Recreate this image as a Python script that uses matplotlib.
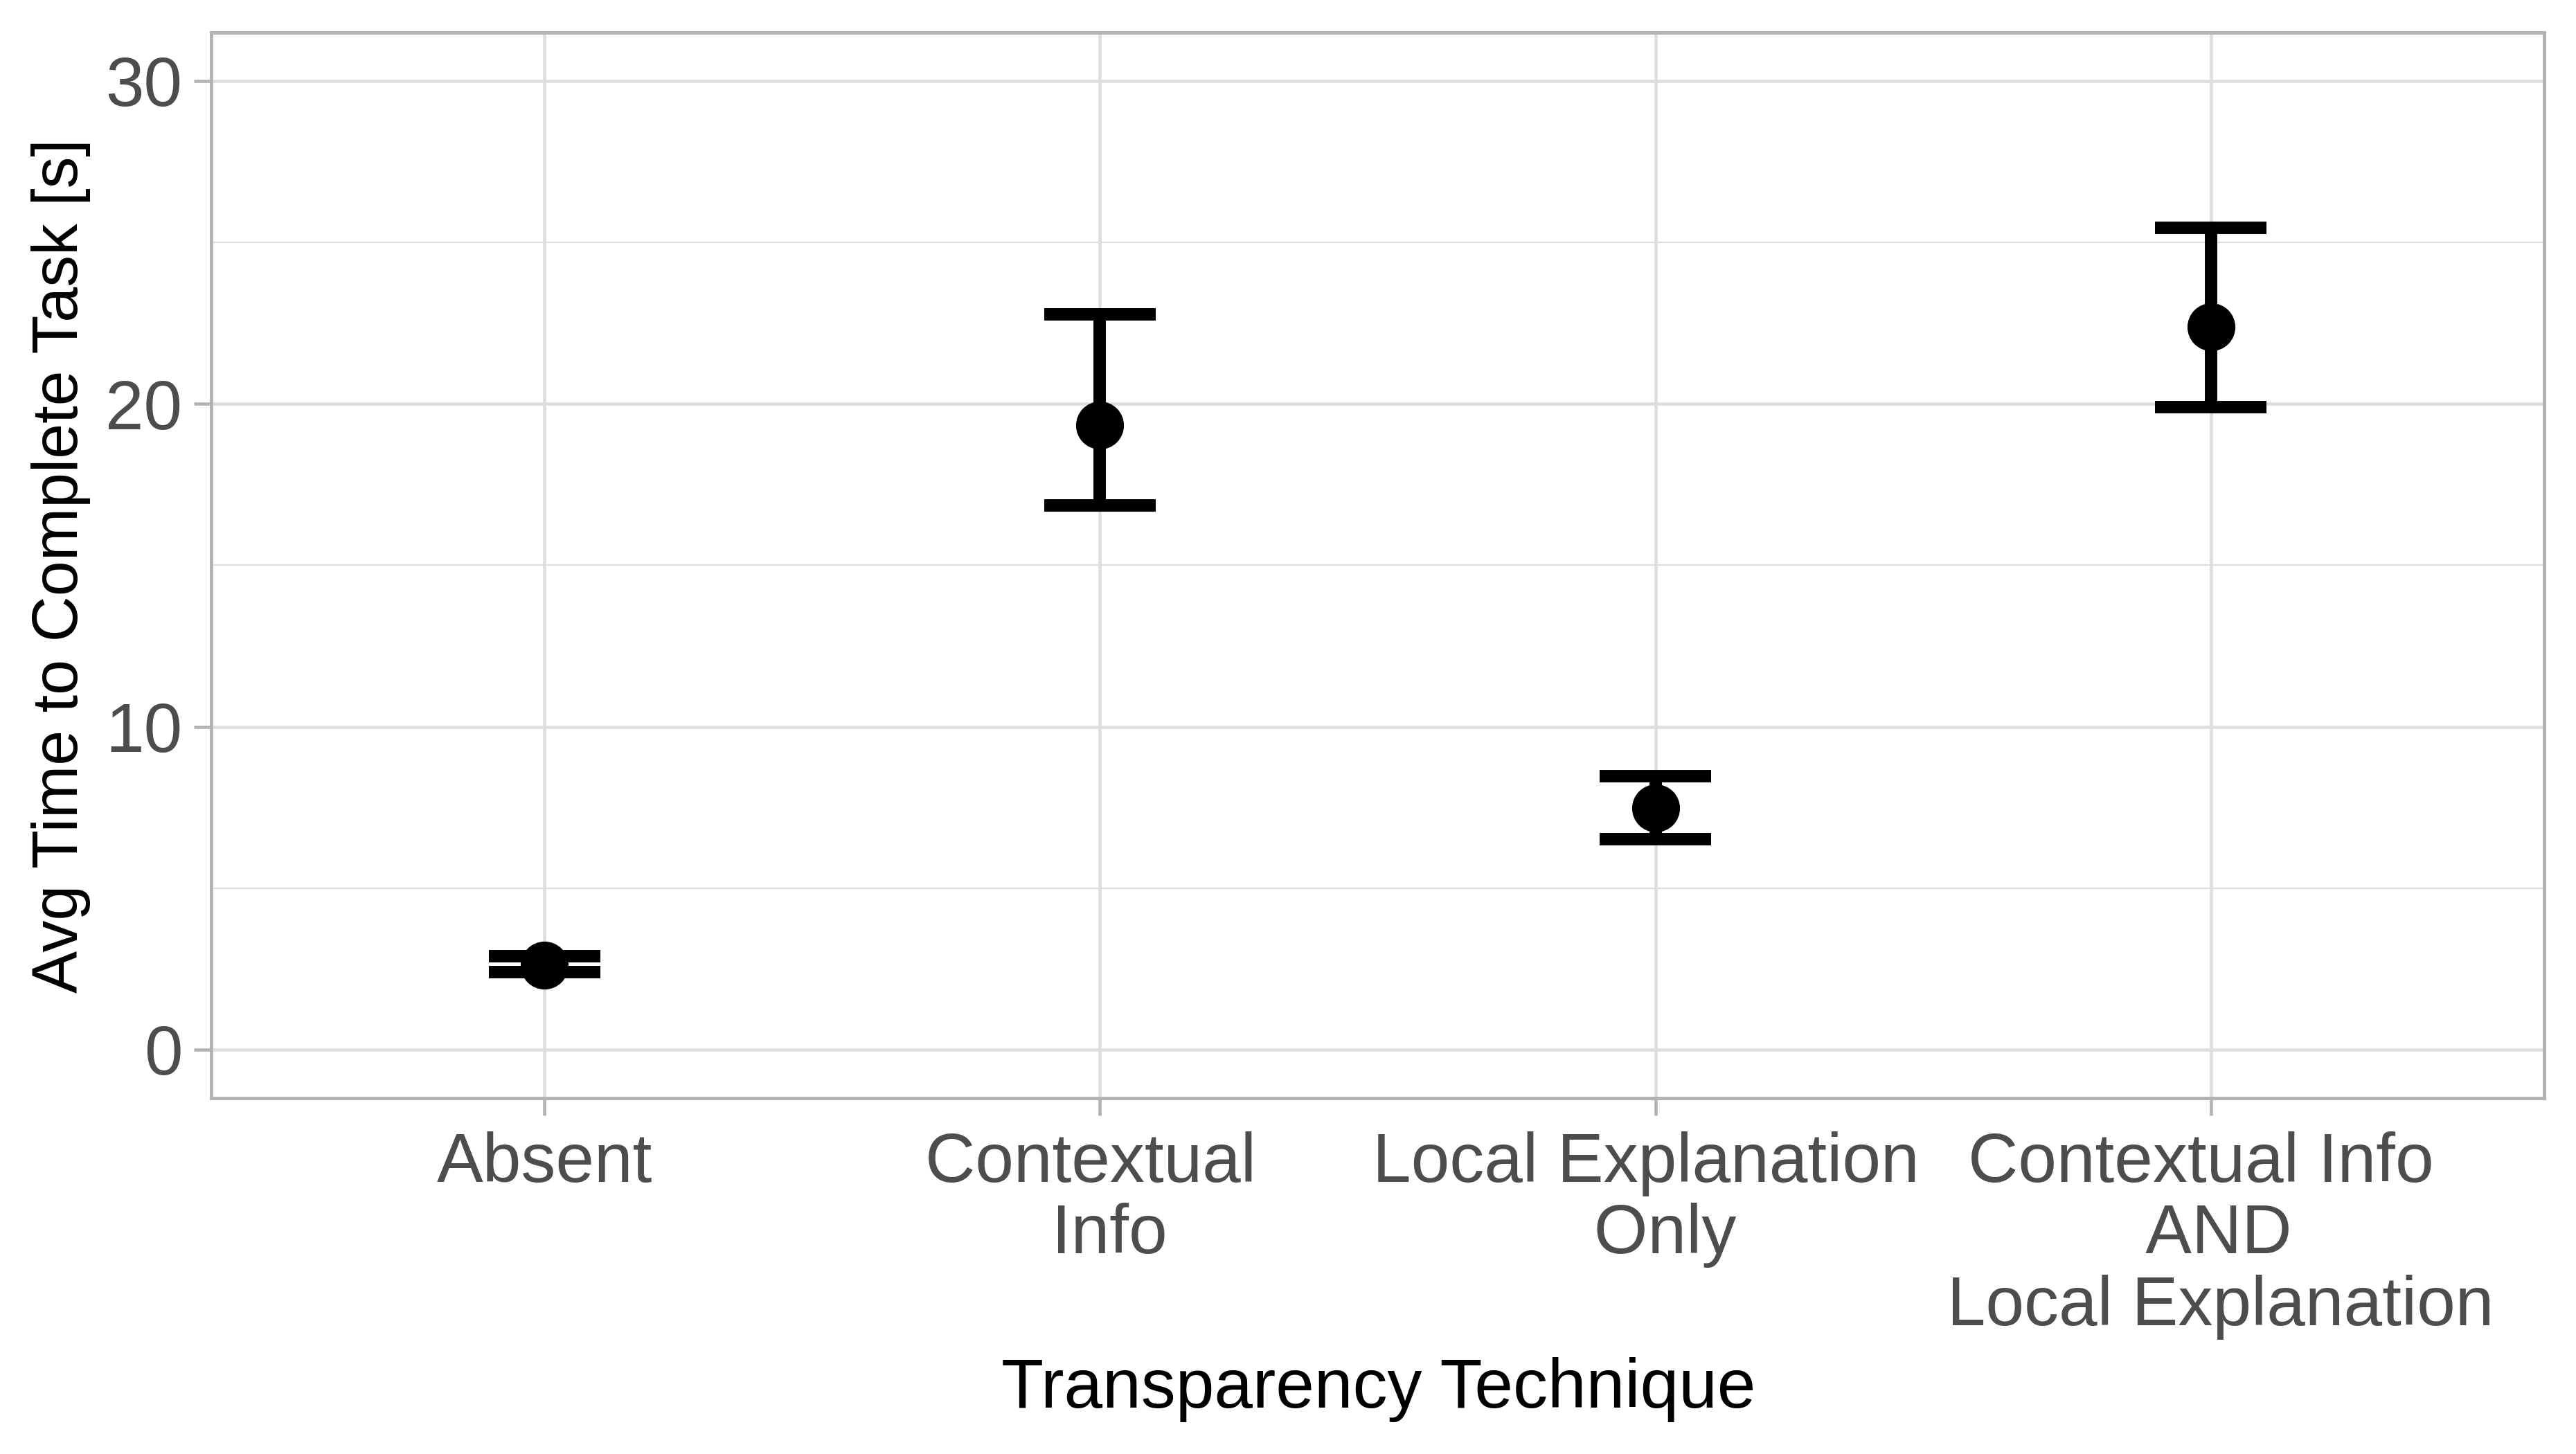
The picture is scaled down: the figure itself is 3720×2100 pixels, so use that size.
import matplotlib.pyplot as plt
import numpy as np

plt.rcParams["font.family"] = ["Liberation Sans", "DejaVu Sans"]

# data
techniques = ["Absent", "Contextual \n Info", "Local Explanation \n Only",
              "Contextual Info \n AND\n Local Explanation"]
avg_time = [2.62, 19.35, 7.49, 22.38]
ci_low = [2.40, 16.85, 6.52, 19.90]
ci_high = [2.90, 22.77, 8.48, 25.46]

x = np.arange(1, len(techniques) + 1)

fig = plt.figure(figsize=(12.4, 7), dpi=300)
ax = fig.add_axes([0.0820, 0.2448, 0.9056, 0.7328])

# grid lines like theme_light
ax.set_yticks([0, 10, 20, 30])
ax.set_yticks([5, 15, 25], minor=True)
ax.set_xticks(x)
ax.set_xticklabels(techniques, linespacing=1.13)
ax.grid(which="major", color="#DEDEDE", linewidth=1.1)
ax.grid(which="minor", axis="y", color="#DEDEDE", linewidth=0.55)
ax.set_axisbelow(True)

# error bars and points
bar_w = 0.2
ax.vlines(x, ci_low, ci_high, color="black", linewidth=4.3, capstyle="butt", zorder=3)
ax.hlines(ci_low, x - bar_w / 2, x + bar_w / 2, color="black", linewidth=4.3,
          capstyle="butt", zorder=3)
ax.hlines(ci_high, x - bar_w / 2, x + bar_w / 2, color="black", linewidth=4.3,
          capstyle="butt", zorder=3)
ax.plot(x, avg_time, "o", color="black", markersize=15.6, zorder=4)

ax.set_xlim(0.4, 4.6)
ax.set_ylim(-1.5, 31.5)

for s in ax.spines.values():
    s.set_color("#B3B3B3")
    s.set_linewidth(1.2)

ax.tick_params(which="major", length=6, width=1.1, color="#B3B3B3",
               labelcolor="#4D4D4D", labelsize=24, pad=5.5)
ax.tick_params(axis="y", which="major", pad=4)
ax.tick_params(which="minor", length=0)

fig.text(0.535, 0.0319, "Transparency Technique", ha="center", va="baseline",
         fontsize=24, color="black")
fig.text(0.0121, 0.611, "Avg Time to Complete Task [s]", rotation=90,
         ha="left", va="center", fontsize=22, color="black")

fig.savefig("out.png", dpi=300)
